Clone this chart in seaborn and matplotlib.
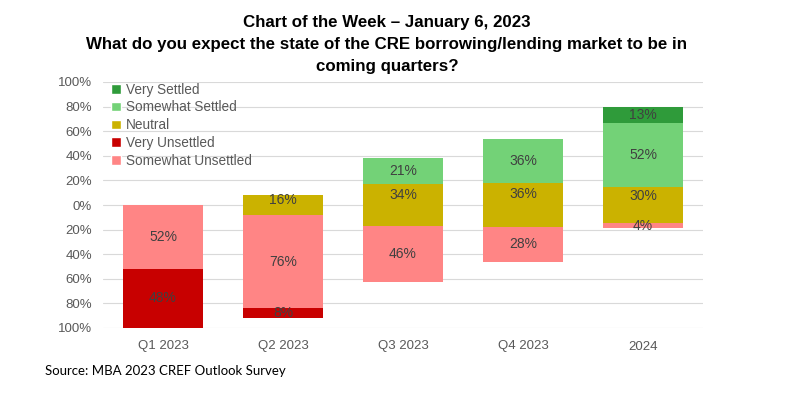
import matplotlib
matplotlib.use("Agg")
import matplotlib.pyplot as plt
from matplotlib.patches import Patch
import seaborn as sns
import pandas as pd
import numpy as np

categories = ["Q1 2023", "Q2 2023", "Q3 2023", "Q4 2023", "2024"]
very_settled = [0, 0, 0, 0, 13]
somewhat_settled = [0, 0, 21, 36, 52]
neutral = [0, 16, 34, 36, 30]
very_unsettled = [48, 8, 0, 0, 0]
somewhat_unsettled = [52, 76, 46, 28, 4]
y_ticks = [-100, -80, -60, -40, -20, 0, 20, 40, 60, 80, 100]

colors = {
    "Very Settled": "#2f9b3a",
    "Somewhat Settled": "#73d277",
    "Neutral": "#cbb200",
    "Very Unsettled": "#c80000",
    "Somewhat Unsettled": "#ff8585",
}

sns.set_theme(style="white")
plt.rcParams['font.family'] = ['Liberation Sans', 'DejaVu Sans']

fig = plt.figure(figsize=(8.07, 3.96), dpi=100)
ax = fig.add_axes([103/807, 1-328/396, 600/807, 246/396])

vs = np.array(very_settled, float)
ss = np.array(somewhat_settled, float)
ne = np.array(neutral, float)
vu = np.array(very_unsettled, float)
su = np.array(somewhat_unsettled, float)

half = ne / 2
pos_vs = half + ss + vs
pos_ss = half + ss
neg_vu = -(half + su + vu)
neg_su = -(half + su)

layers = [
    (pos_vs, "Very Settled"),
    (pos_ss, "Somewhat Settled"),
    (half, "Neutral"),
    (neg_vu, "Very Unsettled"),
    (neg_su, "Somewhat Unsettled"),
    (-half, "Neutral"),
]
for vals, name in layers:
    df = pd.DataFrame({"cat": categories, "val": vals})
    sns.barplot(data=df, x="cat", y="val", color=colors[name], width=0.667,
                saturation=1, ax=ax, zorder=2, errorbar=None, linewidth=0)

# labels
lab_color = "#404040"
for i in range(len(categories)):
    segs = []
    if vs[i] > 0:
        segs.append((half[i] + ss[i] + vs[i] / 2, vs[i]))
    if ss[i] > 0:
        segs.append((half[i] + ss[i] / 2, ss[i]))
    if ne[i] > 0:
        segs.append((half[i] / 2, ne[i]))
    if su[i] > 0:
        segs.append((-(half[i] + su[i] / 2), su[i]))
    if vu[i] > 0:
        segs.append((-(half[i] + su[i] + vu[i] / 2), vu[i]))
    for y, v in segs:
        ax.text(i, y, f"{int(v)}%", ha="center", va="center", fontsize=10,
                color=lab_color, zorder=4)

ax.set_ylim(-100, 100)
ax.set_xlim(-0.5, 4.5)
ax.set_yticks(y_ticks)
ax.set_yticklabels([f"{abs(t)}%" for t in y_ticks])
ax.yaxis.grid(True, color="#d9d9d9", linewidth=0.8, zorder=0)
ax.set_axisbelow(True)
for s in ax.spines.values():
    s.set_visible(False)
ax.set_xlabel("")
ax.set_ylabel("")
ax.tick_params(axis="both", length=0, labelsize=9.5, colors="#595959")
ax.tick_params(axis="x", pad=9)
ax.tick_params(axis="y", pad=8)

handles = [Patch(facecolor=colors[n], label=n) for n in
           ["Very Settled", "Somewhat Settled", "Neutral", "Very Unsettled", "Somewhat Unsettled"]]
leg = ax.legend(handles=handles, loc="upper left", bbox_to_anchor=(0.005, 1.02),
                frameon=False, fontsize=9.8, handlelength=0.7, handleheight=0.7,
                handletextpad=0.35, labelspacing=0.28, borderaxespad=0)
for t in leg.get_texts():
    t.set_color("#595959")

title_kw = dict(ha="center", va="center", fontsize=12.2, fontweight="bold", color="black")
fig.text(387/807, 1-22/396, "Chart of the Week \u2013 January 6, 2023", **title_kw)
fig.text(387/807, 1-45/396, "What do you expect the state of the CRE borrowing/lending market to be in", **title_kw)
fig.text(387/807, 1-66/396, "coming quarters?", **title_kw)

fig.text(45/807, 1-371/396, "Source: MBA 2023 CREF Outlook Survey", ha="left", va="center",
         fontsize=9.5, family=["Lato", "DejaVu Sans"], color="black")

fig.savefig("out.png", dpi=100)
